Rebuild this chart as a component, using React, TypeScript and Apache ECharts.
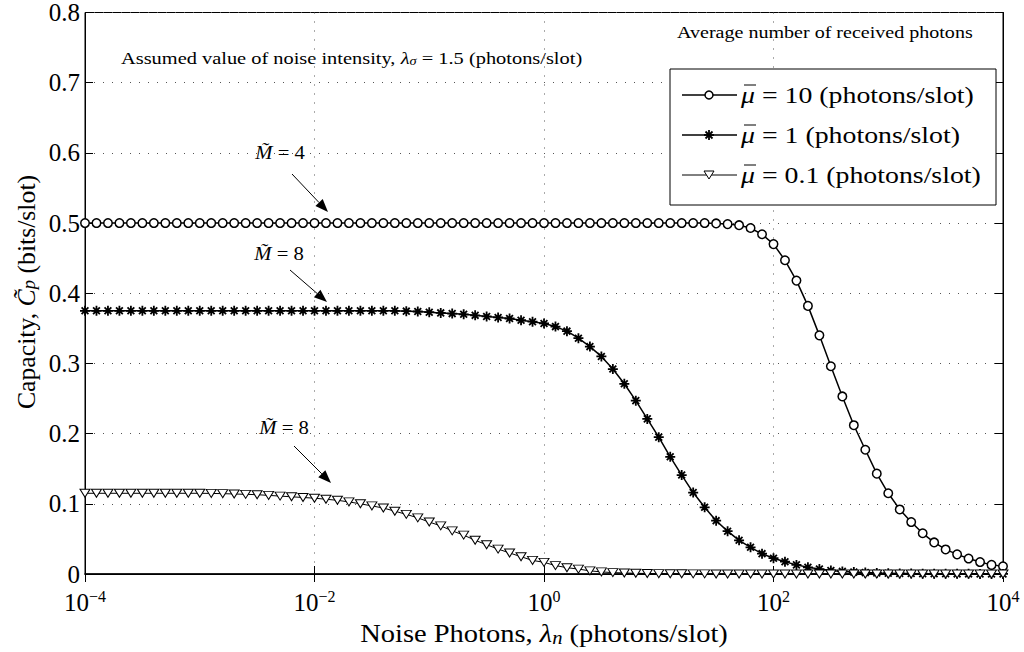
import React, { useEffect, useRef } from "react";
import * as echarts from "echarts";

const FONT = '"Liberation Serif", "Times New Roman", serif';

// log10 of noise photons (sampling grid: 10 per decade)
const noiseExponents = [
  -4, -3.9, -3.8, -3.7, -3.6, -3.5, -3.4, -3.3, -3.2, -3.1,
  -3, -2.9, -2.8, -2.7, -2.6, -2.5, -2.4, -2.3, -2.2, -2.1,
  -2, -1.9, -1.8, -1.7, -1.6, -1.5, -1.4, -1.3, -1.2, -1.1,
  -1, -0.9, -0.8, -0.7, -0.6, -0.5, -0.4, -0.3, -0.2, -0.1,
  0, 0.1, 0.2, 0.3, 0.4, 0.5, 0.6, 0.7, 0.8, 0.9,
  1, 1.1, 1.2, 1.3, 1.4, 1.5, 1.6, 1.7, 1.8, 1.9,
  2, 2.1, 2.2, 2.3, 2.4, 2.5, 2.6, 2.7, 2.8, 2.9,
  3, 3.1, 3.2, 3.3, 3.4, 3.5, 3.6, 3.7, 3.8, 3.9,
  4,
];

const capacityMu10 = [
  0.5, 0.5, 0.5, 0.5, 0.5, 0.5, 0.5, 0.5, 0.5, 0.5,
  0.5, 0.5, 0.5, 0.5, 0.5, 0.5, 0.5, 0.5, 0.5, 0.5,
  0.5, 0.5, 0.5, 0.5, 0.5, 0.5, 0.5, 0.5, 0.5, 0.5,
  0.5, 0.5, 0.5, 0.5, 0.5, 0.5, 0.5, 0.5, 0.5, 0.5,
  0.5, 0.5, 0.5, 0.5, 0.5, 0.5, 0.5, 0.5, 0.5, 0.5,
  0.5, 0.5, 0.5, 0.5, 0.5, 0.4995, 0.4985, 0.497, 0.493, 0.484,
  0.47, 0.447, 0.418, 0.382, 0.34, 0.296, 0.253, 0.212, 0.177, 0.143,
  0.115, 0.092, 0.074, 0.058, 0.045, 0.035, 0.028, 0.022, 0.017, 0.013,
  0.011,
];

const capacityMu1 = [
  0.375, 0.375, 0.375, 0.375, 0.375, 0.375, 0.375, 0.375, 0.375, 0.375,
  0.375, 0.375, 0.375, 0.375, 0.375, 0.375, 0.375, 0.375, 0.375, 0.375,
  0.375, 0.375, 0.375, 0.375, 0.375, 0.375, 0.375, 0.375, 0.3745, 0.374,
  0.373, 0.372, 0.371, 0.37, 0.3685, 0.367, 0.3655, 0.364, 0.3615, 0.3595,
  0.357, 0.3525, 0.346, 0.336, 0.324, 0.31, 0.292, 0.271, 0.247, 0.221,
  0.195, 0.167, 0.141, 0.116, 0.095, 0.076, 0.061, 0.048, 0.038, 0.029,
  0.0225, 0.0175, 0.013, 0.0095, 0.007, 0.005, 0.0037, 0.0027, 0.002, 0.0015,
  0.0011, 0.0008, 0.0006, 0.0005, 0.0004, 0.0003, 0.0002, 0.0002, 0.0001, 0.0001,
  0.0001,
];

const capacityMu01 = [
  0.115, 0.115, 0.115, 0.115, 0.115, 0.115, 0.115, 0.115, 0.115, 0.115,
  0.115, 0.1148, 0.1145, 0.114, 0.1135, 0.113, 0.112, 0.111, 0.11, 0.109,
  0.108, 0.1065, 0.105, 0.1027, 0.1, 0.097, 0.094, 0.0895, 0.085, 0.08,
  0.074, 0.0686, 0.0615, 0.0554, 0.048, 0.0417, 0.0355, 0.03, 0.0246, 0.0194,
  0.0166, 0.012, 0.009, 0.007, 0.0045, 0.003, 0.002, 0.0015, 0.001, 0.0007,
  0.0005, 0.0004, 0.0003, 0.0002, 0.0002, 0.0001, 0.0001, 0.0001, 0.0001, 0.0001,
  0.0001, 0.0001, 0.0001, 0.0001, 0.0001, 0.0001, 0.0001, 0.0001, 0.0001, 0.0001,
  0.0001, 0.0001, 0.0001, 0.0001, 0.0001, 0.0001, 0.0001, 0.0001, 0.0001, 0.0001,
  0.0001,
];

const seriesNames = ["μ̄ = 10 (photons/slot)", "μ̄ = 1 (photons/slot)", "μ̄ = 0.1 (photons/slot)"];
const legendRest = [" = 10 (photons/slot)", " = 1 (photons/slot)", " = 0.1 (photons/slot)"];

const xTitle = "Noise Photons, {i|λ}{sub|n} (photons/slot)";
const yTitle = "Capacity, {i|C̃}{sub|p} (bits/slot)";
const noteAssumed = "Assumed value of noise intensity, {i|λ}{sub|σ} = 1.5 (photons/slot)";
const noteAverage = "Average number of received photons";
const annotations = [
  { text: "{i|M̃} = 4", label: [280, 153], from: [292, 174], to: [328, 212] },
  { text: "{i|M̃} = 8", label: [279, 254], from: [290, 270], to: [327, 302] },
  { text: "{i|M̃} = 8", label: [284, 428], from: [294, 446], to: [331, 483] },
];

const ASTERISK = "path://M5,0L5,10M0,5L10,5M1.6,1.6L8.4,8.4M1.6,8.4L8.4,1.6";

const noisePhotons = noiseExponents.map((e) => Math.pow(10, e));
function pairs(values: number[]) {
  return noisePhotons.map((x, i) => [x, values[i]]);
}

function richStyles(size: number) {
  return {
    i: { fontFamily: FONT, fontSize: size, fontStyle: "italic", fill: "#000", color: "#000" },
    sub: {
      fontFamily: FONT,
      fontSize: Math.round(size * 0.7),
      fontStyle: "italic",
      fill: "#000",
      color: "#000",
      verticalAlign: "bottom",
      lineHeight: Math.round(size * 0.7),
    },
  };
}

function textEl(x: number, y: number, text: string, size: number, scaleX: number, extra: any = {}) {
  return {
    type: "text",
    x,
    y,
    scaleX,
    ...extra,
    style: {
      text,
      fontFamily: FONT,
      fontSize: size,
      fill: "#000",
      align: extra.align || "left",
      verticalAlign: "middle",
      rich: richStyles(size),
    },
  };
}

function arrowGraphics() {
  const out: any[] = [];
  annotations.forEach((a) => {
    const [x1, y1] = a.from;
    const [x2, y2] = a.to;
    const dx = x2 - x1;
    const dy = y2 - y1;
    const len = Math.sqrt(dx * dx + dy * dy);
    const ux = dx / len;
    const uy = dy / len;
    const L = 13;
    const W = 5;
    const bx = x2 - ux * L;
    const by = y2 - uy * L;
    out.push({
      type: "text",
      x: a.label[0],
      y: a.label[1],
      scaleX: 1.15,
      style: {
        text: a.text,
        fontFamily: FONT,
        fontSize: 18,
        fill: "#000",
        align: "center",
        verticalAlign: "middle",
        rich: richStyles(18),
      },
    });
    out.push({
      type: "line",
      shape: { x1, y1, x2: bx, y2: by },
      style: { stroke: "#000", lineWidth: 1 },
    });
    out.push({
      type: "polygon",
      shape: {
        points: [
          [x2, y2],
          [bx - uy * W, by + ux * W],
          [bx + uy * W, by - ux * W],
        ],
      },
      style: { fill: "#000" },
    });
  });
  return out;
}

function legendGraphics() {
  const box = { x: 670, y: 69, w: 326, h: 136 };
  const rows = [95, 135, 175];
  const out: any[] = [
    {
      type: "rect",
      shape: { x: box.x, y: box.y, width: box.w, height: box.h },
      style: { fill: "#fff", stroke: "#000", lineWidth: 1 },
      z: 10,
    },
  ];
  rows.forEach((ry, k) => {
    out.push({
      type: "line",
      shape: { x1: 682, y1: ry, x2: 737, y2: ry },
      style: { stroke: "#000", lineWidth: k === 2 ? 1 : 1.5 },
      z: 11,
    });
    if (k === 0) {
      out.push({
        type: "circle",
        shape: { cx: 709, cy: ry, r: 4 },
        style: { fill: "#fff", stroke: "#000", lineWidth: 1.5 },
        z: 12,
      });
    } else if (k === 1) {
      const r = 5;
      const d = 3.5;
      [
        [0, -r, 0, r],
        [-r, 0, r, 0],
        [-d, -d, d, d],
        [-d, d, d, -d],
      ].forEach((s) =>
        out.push({
          type: "line",
          shape: { x1: 709 + s[0], y1: ry + s[1], x2: 709 + s[2], y2: ry + s[3] },
          style: { stroke: "#000", lineWidth: 1.8 },
          z: 12,
        })
      );
    } else {
      out.push({
        type: "polygon",
        shape: {
          points: [
            [704, ry - 4],
            [714, ry - 4],
            [709, ry + 4],
          ],
        },
        style: { fill: "#fff", stroke: "#000", lineWidth: 1 },
        z: 12,
      });
    }
    out.push({
      type: "text",
      x: 741,
      y: ry,
      scaleX: 1.21,
      z: 12,
      style: {
        text: "{i|μ}" + legendRest[k],
        fontFamily: FONT,
        fontSize: 23,
        fill: "#000",
        align: "left",
        verticalAlign: "middle",
        rich: richStyles(23),
      },
    });
    out.push({
      type: "line",
      shape: { x1: 744, y1: ry - 10, x2: 756, y2: ry - 10 },
      style: { stroke: "#000", lineWidth: 1 },
      z: 12,
    });
  });
  return out;
}

export default function App() {
  const ref = useRef<HTMLDivElement>(null);
  useEffect(() => {
    if (!ref.current) return;
    const chart = echarts.init(ref.current, null, { renderer: "svg" });
    const xAxisBase = { type: "log", logBase: 10, min: 1e-4, max: 1e4, interval: 2 };
    const yAxisBase = { type: "value", min: 0, max: 0.8, interval: 0.1 };
    const dotted = { type: [1, 8], color: "#555", width: 1 };
    const tick = { show: true, inside: true, length: 8, lineStyle: { color: "#000" } };
    chart.setOption({
      animation: false,
      backgroundColor: "#fff",
      grid: {
        left: 85,
        right: 21,
        top: 11,
        bottom: 78,
        show: true,
        borderColor: "#000",
        borderWidth: 1,
      },
      legend: { show: false, data: seriesNames },
      xAxis: [
        {
          ...xAxisBase,
          position: "bottom",
          axisLine: { show: true, lineStyle: { color: "#000", width: 1.5 } },
          axisTick: tick,
          axisLabel: {
            color: "#000",
            margin: 14,
            formatter: (v: number) => {
              const e = Math.round(Math.log10(v));
              return "{b|10}{s|" + (e < 0 ? "−" + -e : "" + e) + "}";
            },
            rich: {
              b: { fontFamily: FONT, fontSize: 25, color: "#000", lineHeight: 28 },
              s: {
                fontFamily: FONT,
                fontSize: 16,
                color: "#000",
                verticalAlign: "top",
                lineHeight: 16,
              },
            },
          },
          splitLine: { show: true, lineStyle: dotted },
        },
        {
          ...xAxisBase,
          position: "top",
          axisLine: { show: true, lineStyle: { color: "#000", width: 1 } },
          axisTick: tick,
          axisLabel: { show: false },
          splitLine: { show: false },
        },
      ],
      yAxis: [
        {
          ...yAxisBase,
          position: "left",
          axisLine: { show: true, lineStyle: { color: "#000", width: 1 } },
          axisTick: tick,
          axisLabel: {
            color: "#000",
            fontFamily: FONT,
            fontSize: 25,
            margin: 5,
            formatter: (v: number) => (v === 0 ? "0" : v.toFixed(1)),
          },
          splitLine: { show: true, lineStyle: dotted },
        },
        {
          ...yAxisBase,
          position: "right",
          axisLine: { show: true, lineStyle: { color: "#000", width: 1 } },
          axisTick: tick,
          axisLabel: { show: false },
          splitLine: { show: false },
        },
      ],
      series: [
        {
          name: seriesNames[0],
          type: "line",
          data: pairs(capacityMu10),
          symbol: "circle",
          symbolSize: 8.5,
          lineStyle: { color: "#000", width: 1.5 },
          itemStyle: { color: "#fff", borderColor: "#000", borderWidth: 1.5 },
          z: 3,
        },
        {
          name: seriesNames[1],
          type: "line",
          data: pairs(capacityMu1),
          symbol: ASTERISK,
          symbolSize: 10,
          lineStyle: { color: "#000", width: 1.5 },
          itemStyle: { color: "#000", borderColor: "#000", borderWidth: 1.8 },
          z: 4,
        },
        {
          name: seriesNames[2],
          type: "line",
          data: pairs(capacityMu01),
          symbol: "triangle",
          symbolRotate: 180,
          symbolSize: [10, 8],
          lineStyle: { color: "#000", width: 1 },
          itemStyle: { color: "#fff", borderColor: "#000", borderWidth: 1 },
          z: 5,
        },
      ],
      graphic: [
        textEl(544, 634, xTitle, 25, 1.14, { align: "center" }),
        textEl(26, 292, yTitle, 25, 1.03, { align: "center", rotation: Math.PI / 2 }),
        textEl(121, 58, noteAssumed, 17, 1.2),
        textEl(677, 32, noteAverage, 17, 1.18),
        ...arrowGraphics(),
        ...legendGraphics(),
      ],
    });
    return () => chart.dispose();
  }, []);
  return (
    <div
      ref={ref}
      style={{ position: "fixed", left: 0, top: 0, width: 1024, height: 652 }}
    />
  );
}
